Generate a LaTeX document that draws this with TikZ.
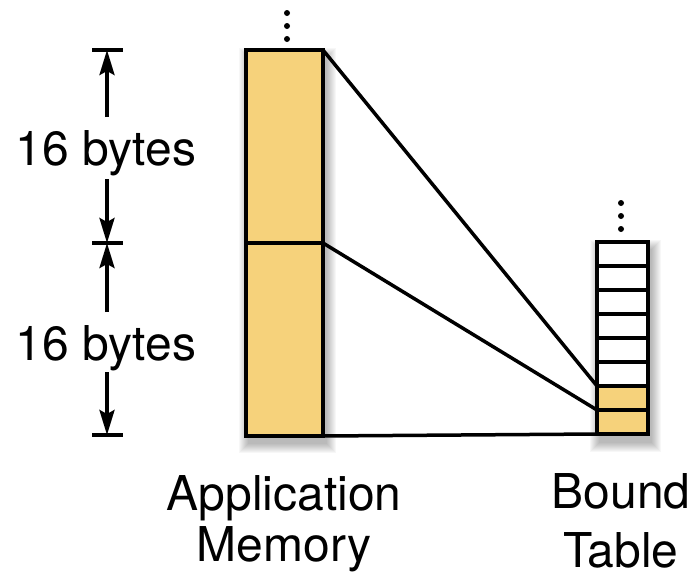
\documentclass[tikz,border=0pt]{standalone}
\usepackage{fontspec}
\setmainfont{TeX Gyre Heros}
\usetikzlibrary{arrows.meta}
\definecolor{memyellow}{HTML}{F6D27B}
\tikzset{
  memcell/.style={draw=black, line width=4pt, fill=memyellow, minimum width=77pt, minimum height=193pt, inner sep=0pt, outer sep=0pt},
  tcell/.style={draw=black, line width=4pt, fill=white, minimum width=51pt, minimum height=24pt, inner sep=0pt, outer sep=0pt},
  ycell/.style={tcell, fill=memyellow},
  link/.style={line width=3.5pt, black},
  dim/.style={line width=3.5pt, -{Stealth[length=25pt,width=15pt,inset=4pt]}},
  tick/.style={line width=3.5pt},
  lbl/.style={font=\fontsize{48}{52}\selectfont, inner sep=0pt, anchor=base},
  dot/.style={fill=black, circle, inner sep=0pt, minimum size=6pt},
}
\begin{document}
\begin{tikzpicture}[x=1pt,y=-1pt]
\useasboundingbox (0,0) rectangle (693,576);
% soft shadows
\foreach \i in {1,...,10}{
  \fill[black, opacity=0.03] (246-\i+3,50-\i+8) rectangle (323+\i+3,435+\i+8);
  \fill[black, opacity=0.03] (597-\i+3,242-\i+8) rectangle (648+\i+3,434+\i+8);
}
% application memory
\node[memcell, anchor=north west] (a1) at (246,50) {};
\node[memcell, anchor=north west] (a2) at (246,243) {};
% bound table
\foreach \k in {1,...,6}{
  \node[tcell, anchor=north west] (b\k) at (597,{242+24*(\k-1)}) {};
}
\node[ycell, anchor=north west] (b7) at (597,386) {};
\node[ycell, anchor=north west] (b8) at (597,410) {};
% links
\draw[link] (a1.north east) -- (b7.north west);
\draw[link] (a2.north east) -- (b8.north west);
\draw[link] (a2.south east) -- (b8.south west);
% dots
\foreach \y [count=\n] in {13,26,39}{
  \node[dot] (da\n) at (287,\y) {};
  \node[dot] (db\n) at (621,{\y+190}) {};
}
% dimension labels
\node[lbl] (l1) at (106,165) {16 bytes};
\node[lbl] (l2) at (106,360) {16 bytes};
\coordinate (t1) at (107,50);
\coordinate (t2) at (107,243);
\coordinate (t3) at (107,435);
\coordinate (s1) at (107,117);
\coordinate (s2) at (107,179);
\coordinate (s3) at (107,312);
\coordinate (s4) at (107,372);
\draw[tick] ([xshift=-15pt]t1) -- ([xshift=16pt]t1);
\draw[tick] ([xshift=-15pt]t2) -- ([xshift=16pt]t2);
\draw[tick] ([xshift=-15pt]t3) -- ([xshift=16pt]t3);
\draw[dim] (s1) -- (t1);
\draw[dim] (s2) -- (t2);
\draw[dim] (s3) -- (t2);
\draw[dim] (s4) -- (t3);
% bottom labels
\node[lbl] (am1) at (284,510) {Application};
\node[lbl] (am2) at (284,561) {Memory};
\node[lbl] (bt1) at (621,508) {Bound};
\node[lbl] (bt2) at (621,567) {Table};
\end{tikzpicture}
\end{document}
